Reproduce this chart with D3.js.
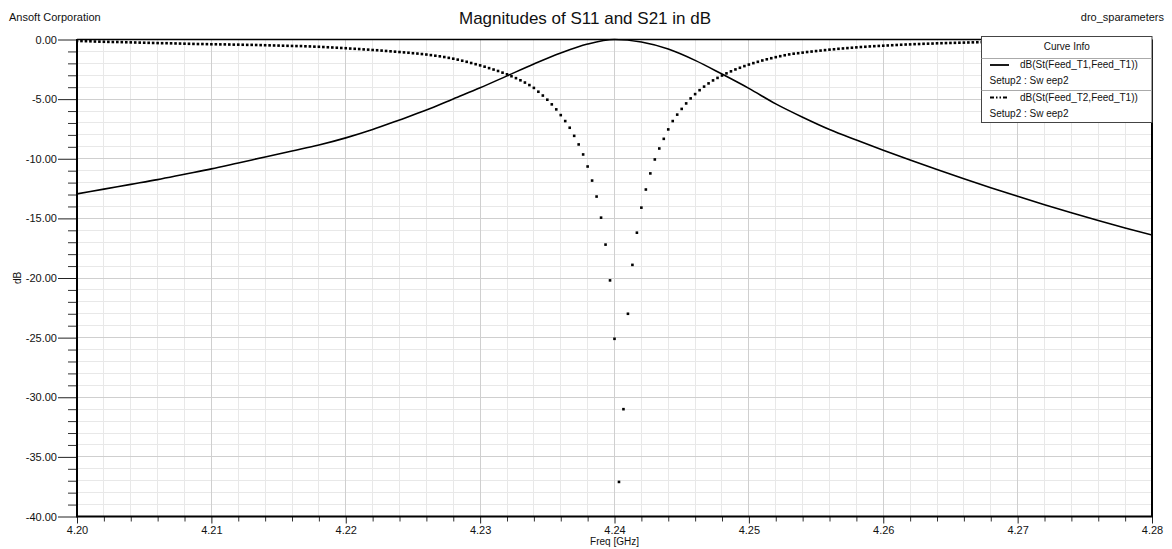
<!DOCTYPE html>
<html>
<head>
<meta charset="utf-8">
<script src="https://cdn.jsdelivr.net/npm/d3@7"></script>
<style>
  html, body { margin: 0; padding: 0; background: #fff; }
  svg { display: block; }
  text { font-family: "Liberation Sans", Arial, sans-serif; fill: #111; }
</style>
</head>
<body>
<div id="chart"></div>
<script>
// ---------------- DATA ----------------
const titleText = "Magnitudes of S11 and S21 in dB";
const companyText = "Ansoft Corporation";
const projectText = "dro_sparameters";
const xAxisTitle = "Freq [GHz]";
const yAxisTitle = "dB";

const xTickValues = [4.20, 4.21, 4.22, 4.23, 4.24, 4.25, 4.26, 4.27, 4.28];
const xTickLabels = ["4.20", "4.21", "4.22", "4.23", "4.24", "4.25", "4.26", "4.27", "4.28"];
const yTickValues = [0, -5, -10, -15, -20, -25, -30, -35, -40];
const yTickLabels = ["0.00", "-5.00", "-10.00", "-15.00", "-20.00", "-25.00", "-30.00", "-35.00", "-40.00"];

const seriesNames = ["dB(St(Feed_T1,Feed_T1))", "dB(St(Feed_T2,Feed_T1))"];
const seriesSetup = ["Setup2 : Sw eep2", "Setup2 : Sw eep2"];

// Linear frequency sweep (GHz) used by the S21 markers
const sweepStart = 4.20, sweepStop = 4.28, sweepPoints = 241;

// dB(St(Feed_T1,Feed_T1)) - solid curve, read every 0.002 GHz
const s11Freq = [4.200, 4.202, 4.204, 4.206, 4.208, 4.210, 4.212, 4.214, 4.216, 4.218,
                 4.220, 4.222, 4.224, 4.226, 4.228, 4.230, 4.232, 4.234, 4.236, 4.238,
                 4.240, 4.242, 4.244, 4.246, 4.248, 4.250, 4.252, 4.254, 4.256, 4.258,
                 4.260, 4.262, 4.264, 4.266, 4.268, 4.270, 4.272, 4.274, 4.276, 4.278, 4.280];
const s11dB = [-12.95, -12.55, -12.15, -11.75, -11.30, -10.85, -10.35, -9.85, -9.35, -8.85,
               -8.25, -7.55, -6.75, -5.92, -4.98, -4.05, -3.05, -2.05, -1.13, -0.38,
               0.00, -0.21, -0.80, -1.75, -2.90, -4.10, -5.40, -6.52, -7.55, -8.43,
               -9.28, -10.10, -10.90, -11.68, -12.43, -13.15, -13.85, -14.53, -15.18, -15.80, -16.40];

// dB(St(Feed_T2,Feed_T1)) - one value per sweep point (markers)
const s21dB = [
  -0.12,-0.13,-0.14,-0.15,-0.17,-0.18,-0.19,-0.20,-0.21,-0.21,
  -0.22,-0.23,-0.24,-0.25,-0.26,-0.27,-0.28,-0.29,-0.30,-0.31,
  -0.31,-0.32,-0.33,-0.34,-0.35,-0.36,-0.37,-0.38,-0.38,-0.39,
  -0.40,-0.40,-0.41,-0.41,-0.42,-0.43,-0.43,-0.44,-0.45,-0.45,
  -0.46,-0.47,-0.48,-0.49,-0.50,-0.51,-0.52,-0.53,-0.54,-0.55,
  -0.55,-0.57,-0.58,-0.60,-0.61,-0.63,-0.65,-0.67,-0.69,-0.71,
  -0.73,-0.76,-0.78,-0.80,-0.83,-0.85,-0.88,-0.90,-0.93,-0.96,
  -0.99,-1.02,-1.05,-1.08,-1.11,-1.15,-1.18,-1.22,-1.26,-1.31,
  -1.36,-1.41,-1.47,-1.54,-1.61,-1.69,-1.78,-1.87,-1.97,-2.07,
  -2.17,-2.28,-2.40,-2.52,-2.64,-2.78,-2.92,-3.08,-3.24,-3.42,
  -3.61,-3.82,-4.06,-4.38,-4.70,-5.05,-5.44,-5.86,-6.34,-6.84,
  -7.40,-8.08,-8.80,-9.64,-10.65,-11.83,-13.17,-14.94,-17.20,-20.20,
  -25.10,-37.10,-31.00,-23.00,-18.90,-16.20,-14.10,-12.58,-11.23,-10.06,
  -9.14,-8.33,-7.54,-6.84,-6.30,-5.82,-5.36,-4.94,-4.58,-4.25,
  -3.95,-3.68,-3.43,-3.22,-3.02,-2.84,-2.67,-2.51,-2.37,-2.23,
  -2.10,-1.98,-1.87,-1.76,-1.66,-1.57,-1.48,-1.40,-1.32,-1.25,
  -1.19,-1.15,-1.10,-1.05,-1.01,-0.97,-0.93,-0.89,-0.85,-0.82,
  -0.78,-0.75,-0.72,-0.69,-0.66,-0.63,-0.61,-0.58,-0.56,-0.54,
  -0.52,-0.50,-0.48,-0.46,-0.44,-0.42,-0.41,-0.39,-0.38,-0.36,
  -0.35,-0.34,-0.32,-0.31,-0.30,-0.29,-0.28,-0.27,-0.26,-0.25,
  -0.24,-0.23,-0.22,-0.21,-0.21,-0.20,-0.19,-0.18,-0.18,-0.17,
  -0.16,-0.16,-0.15,-0.15,-0.14,-0.14,-0.13,-0.13,-0.12,-0.12,
  -0.11,-0.11,-0.10,-0.10,-0.10,-0.09,-0.09,-0.09,-0.08,-0.08,
  -0.08,-0.07,-0.07,-0.07,-0.07,-0.06,-0.06,-0.06,-0.06,-0.05,
  -0.05
];

// ---------------- LAYOUT ----------------
const W = 1172, H = 549;
const pLeft = 77, pRight = 1152, pTop = 39.5, pBottom = 516.5;

const svg = d3.select("#chart").append("svg")
  .attr("width", W).attr("height", H)
  .attr("viewBox", `0 0 ${W} ${H}`);

svg.append("rect").attr("width", W).attr("height", H).attr("fill", "#fff");

const x = d3.scaleLinear().domain([4.20, 4.28]).range([pLeft, pRight]);
const y = d3.scaleLinear().domain([0, -40]).range([pTop, pBottom]);

const crisp = v => Math.round(v - 0.5) + 0.5;

// ---------------- GRID ----------------
const grid = svg.append("g");
const xMinor = x.ticks(40);
const yMinor = y.ticks(40);
const isMajorX = v => xTickValues.some(t => Math.abs(t - v) < 1e-9);
const isMajorY = v => yTickValues.some(t => Math.abs(t - v) < 1e-9);

grid.selectAll("line.vminor").data(xMinor.filter(v => !isMajorX(v))).enter().append("line")
  .attr("x1", d => crisp(x(d))).attr("x2", d => crisp(x(d)))
  .attr("y1", pTop).attr("y2", pBottom)
  .attr("stroke", "#e8e8e8").attr("stroke-width", 1);
grid.selectAll("line.hminor").data(yMinor.filter(v => !isMajorY(v))).enter().append("line")
  .attr("y1", d => crisp(y(d))).attr("y2", d => crisp(y(d)))
  .attr("x1", pLeft).attr("x2", pRight)
  .attr("stroke", "#e8e8e8").attr("stroke-width", 1);
grid.selectAll("line.vmajor").data(xTickValues).enter().append("line")
  .attr("x1", d => crisp(x(d))).attr("x2", d => crisp(x(d)))
  .attr("y1", pTop).attr("y2", pBottom)
  .attr("stroke", "#cfcfcf").attr("stroke-width", 1);
grid.selectAll("line.hmajor").data(yTickValues).enter().append("line")
  .attr("y1", d => crisp(y(d))).attr("y2", d => crisp(y(d)))
  .attr("x1", pLeft).attr("x2", pRight)
  .attr("stroke", "#cfcfcf").attr("stroke-width", 1);

// ---------------- SERIES ----------------
svg.append("clipPath").attr("id", "plotclip").append("rect")
  .attr("x", pLeft).attr("y", pTop - 2).attr("width", pRight - pLeft).attr("height", pBottom - pTop + 2);

const plot = svg.append("g").attr("clip-path", "url(#plotclip)");

const s11Data = s11Freq.map((f, i) => ({ f, v: s11dB[i] }));
const line = d3.line().x(d => x(d.f)).y(d => y(d.v)).curve(d3.curveMonotoneX);
plot.append("path").datum(s11Data)
  .attr("d", line).attr("fill", "none")
  .attr("stroke", "#000").attr("stroke-width", 1.6);

const sweepFreq = d3.range(sweepPoints).map(i => sweepStart + i * (sweepStop - sweepStart) / (sweepPoints - 1));
const s21Data = sweepFreq.map((f, i) => ({ f, v: s21dB[i] }));
const ms = 2.6;
plot.selectAll("rect.s21").data(s21Data).enter().append("rect")
  .attr("x", d => x(d.f) - ms / 2).attr("y", d => y(d.v) - ms / 2)
  .attr("width", ms).attr("height", ms).attr("fill", "#000");

// ---------------- AXES ----------------
const fontFam = '"Liberation Sans", Arial, sans-serif';

const yAxisMinor = d3.axisLeft(y).tickValues(yMinor.filter(v => !isMajorY(v))).tickSize(9).tickFormat("");
const gyMinor = svg.append("g").attr("transform", `translate(${pLeft},0)`).call(yAxisMinor);
gyMinor.select(".domain").remove();
gyMinor.selectAll("line").attr("stroke", "#333");

const yAxis = d3.axisLeft(y).tickValues(yTickValues).tickSize(19).tickPadding(1)
  .tickFormat((d, i) => yTickLabels[i]);
const gy = svg.append("g").attr("transform", `translate(${pLeft},0)`).call(yAxis);
gy.select(".domain").remove();
gy.selectAll("line").attr("stroke", "#222");
gy.selectAll("text").attr("font-family", fontFam).attr("font-size", 11).attr("fill", "#111");

const xAxisMinor = d3.axisBottom(x).tickValues(xMinor.filter(v => !isMajorX(v))).tickSize(5).tickFormat("");
const gxMinor = svg.append("g").attr("transform", `translate(0,${pBottom})`).call(xAxisMinor);
gxMinor.select(".domain").remove();
gxMinor.selectAll("line").attr("stroke", "#333");

const xAxis = d3.axisBottom(x).tickValues(xTickValues).tickSize(7).tickPadding(2.5)
  .tickFormat((d, i) => xTickLabels[i]);
const gx = svg.append("g").attr("transform", `translate(0,${pBottom})`).call(xAxis);
gx.select(".domain").remove();
gx.selectAll("line").attr("stroke", "#222");
gx.selectAll("text").attr("font-family", fontFam).attr("font-size", 11).attr("fill", "#111");

// plot frame
svg.append("line").attr("x1", pLeft).attr("x2", pLeft).attr("y1", pTop - 0.5).attr("y2", pBottom + 0.5)
  .attr("stroke", "#000").attr("stroke-width", 2);
svg.append("line").attr("x1", pLeft - 1).attr("x2", pRight + 1).attr("y1", pBottom).attr("y2", pBottom)
  .attr("stroke", "#000").attr("stroke-width", 2);
svg.append("line").attr("x1", pLeft).attr("x2", pRight).attr("y1", pTop).attr("y2", pTop)
  .attr("stroke", "#000").attr("stroke-width", 1.3);
svg.append("line").attr("x1", pRight).attr("x2", pRight).attr("y1", pTop).attr("y2", pBottom)
  .attr("stroke", "#000").attr("stroke-width", 2);

// ---------------- TEXTS ----------------
svg.append("text").attr("x", 585).attr("y", 24).attr("text-anchor", "middle")
  .attr("font-size", 17).text(titleText);
svg.append("text").attr("x", 9).attr("y", 20.5).attr("font-size", 11).text(companyText);
svg.append("text").attr("x", 1164).attr("y", 20.5).attr("text-anchor", "end")
  .attr("font-size", 11).text(projectText);
svg.append("text").attr("x", (pLeft + pRight) / 2).attr("y", 545).attr("text-anchor", "middle")
  .attr("font-size", 10).text(xAxisTitle);
svg.append("text").attr("transform", `translate(21,${(pTop + pBottom) / 2}) rotate(-90)`)
  .attr("text-anchor", "middle").attr("font-size", 10).text(yAxisTitle);

// ---------------- LEGEND ----------------
const lg = svg.append("g");
const lx0 = 981.5, lx1 = 1152, ly0 = 36.5, ly1 = 122.5;
lg.append("rect").attr("x", lx0).attr("y", ly0).attr("width", lx1 - lx0).attr("height", ly1 - ly0)
  .attr("fill", "#fff").attr("stroke", "#444").attr("stroke-width", 1);
lg.append("text").attr("x", (lx0 + lx1) / 2).attr("y", 49.5).attr("text-anchor", "middle")
  .attr("font-size", 10).text("Curve Info");
lg.append("line").attr("x1", lx0).attr("x2", lx1).attr("y1", 58.5).attr("y2", 58.5)
  .attr("stroke", "#aaa").attr("stroke-width", 1);
lg.append("line").attr("x1", lx0).attr("x2", lx1).attr("y1", 90.5).attr("y2", 90.5)
  .attr("stroke", "#aaa").attr("stroke-width", 1);

const rowsY = [65, 97.5];
const dashes = [null, "4,2,1.5,2,1.5,2"];
seriesNames.forEach((name, i) => {
  const ly = rowsY[i];
  const ln = lg.append("line").attr("x1", 990).attr("x2", 1009).attr("y1", ly).attr("y2", ly)
    .attr("stroke", "#000").attr("stroke-width", 1.8);
  if (dashes[i]) ln.attr("stroke-dasharray", dashes[i]);
  lg.append("text").attr("x", 1020).attr("y", ly + 3.3).attr("font-size", 10).text(name);
  lg.append("text").attr("x", 989.5).attr("y", ly + 19.3).attr("font-size", 10).text(seriesSetup[i]);
});
</script>
</body>
</html>
